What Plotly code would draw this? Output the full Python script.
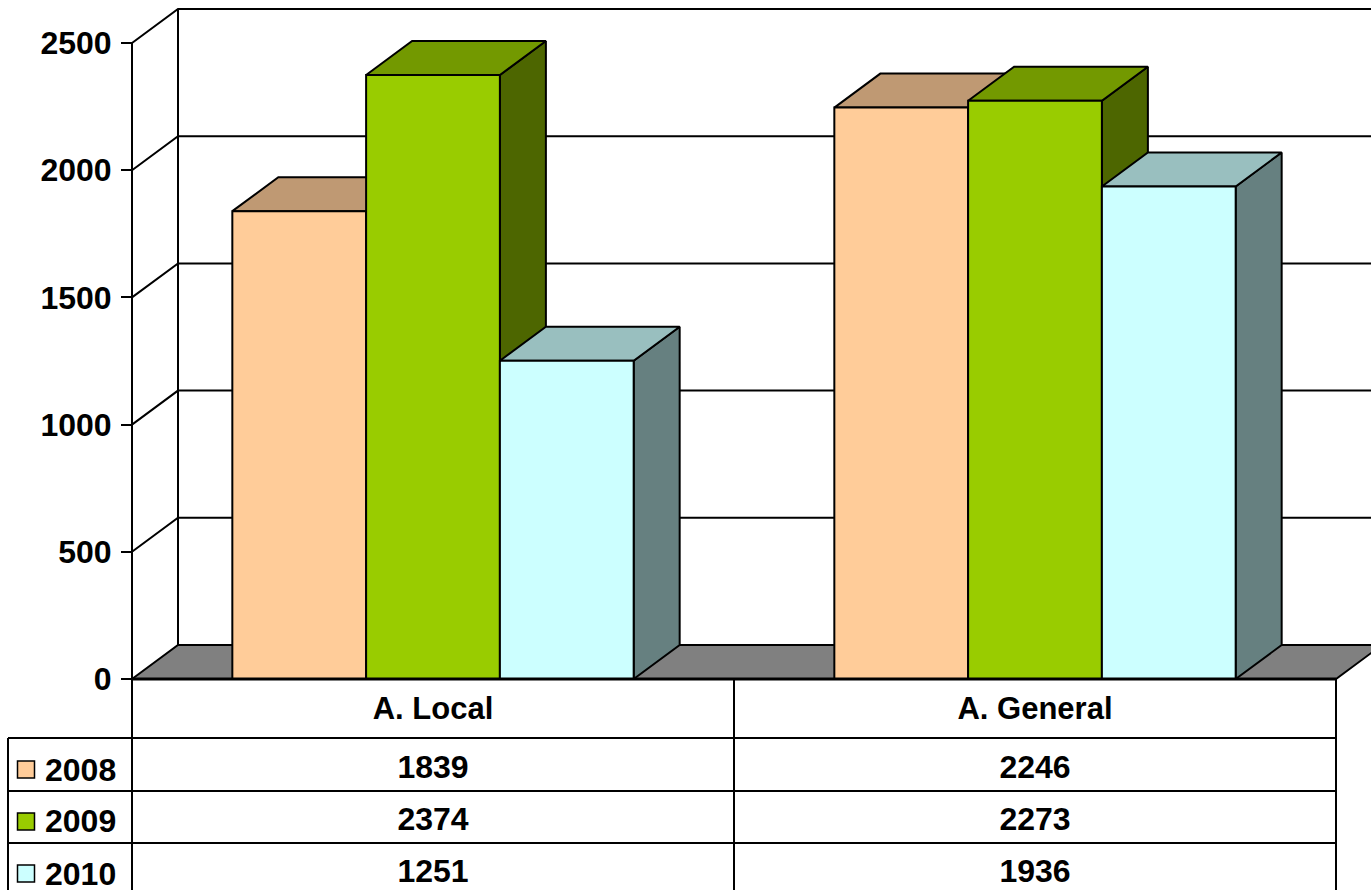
import plotly.graph_objects as go

categories = ["A. Local", "A. General"]
years = ["2008", "2009", "2010"]
values_2008 = [1839, 2246]
values_2009 = [2374, 2273]
values_2010 = [1251, 1936]
y_ticks = [0, 500, 1000, 1500, 2000, 2500]

front = ["#FFCC99", "#99CC00", "#CCFFFF"]
top = ["#BF9973", "#739900", "#99BFBF"]
side = ["#806650", "#4D6600", "#668080"]
FLOOR = "#808080"

W, H = 1371, 890
X0_PX, CAT_PX = 132, 602
Y0_PX, UNIT_PX = 679, 127.2 / 500
FONT = dict(family="Liberation Sans", size=32, color="black", weight="bold")
CAT_FONT = dict(family="Liberation Sans", size=31, color="black", weight="bold")


def xu(px):
    return (px - X0_PX) / CAT_PX


def yu(px):
    return (Y0_PX - px) / UNIT_PX


DX = 46 / CAT_PX
DY = 34 / UNIT_PX
BAR = 1 / 4.5
GAP = BAR * 0.75
X_END = xu(W + 30)
Y_TOP = y_ticks[-1]

fig = go.Figure()


def poly(xs, ys, fill=None, width=2):
    fig.add_trace(go.Scatter(
        x=xs + xs[:1] if fill else xs, y=ys + ys[:1] if fill else ys,
        mode="lines", fill="toself" if fill else None, fillcolor=fill,
        line=dict(color="black", width=width), hoverinfo="skip", showlegend=False))


# walls and gridlines
poly([0, 0], [0, Y_TOP], width=2)
poly([DX, DX], [DY, Y_TOP + DY], width=2)
for t in y_ticks[1:]:
    poly([0, DX, X_END], [t, t + DY, t + DY], width=2)
# floor
poly([0, DX, 2 + DX, 2], [0, DY, DY, 0], fill=FLOOR, width=2)

# bars
series = [values_2008, values_2009, values_2010]
for c in range(len(categories)):
    for s, vals in enumerate(series):
        v = vals[c]
        x1 = c + GAP + s * BAR
        x2 = x1 + BAR
        poly([x2, x2 + DX, x2 + DX, x2], [0, DY, v + DY, v], fill=side[s])
        poly([x1, x1 + DX, x2 + DX, x2], [v, v + DY, v + DY, v], fill=top[s])
        poly([x1, x1, x2, x2], [0, v, v, 0], fill=front[s])

# baseline
poly([0, 2], [0, 0], width=3)

# data table grid
row_lines = [738, 791, 843]
for p in row_lines:
    poly([xu(8), 2], [yu(p), yu(p)], width=2)
poly([xu(8), xu(8)], [yu(738), yu(H)], width=2)
for xv in (0, 1, 2):
    poly([xv, xv], [0, yu(H)], width=2)

# table values
row_px = [770, 822, 874]
for vals, p in zip(series, row_px):
    fig.add_trace(go.Scatter(
        x=[0.5, 1.5], y=[yu(p)] * 2, mode="text", text=[str(v) for v in vals],
        textposition="middle center", showlegend=False, hoverinfo="skip",
        textfont=FONT))

# legend keys in the table
key_px = [769.5, 821.5, 873.5]
label_px = [773, 824, 877]
fig.add_trace(go.Scatter(
    x=[xu(26)] * 3, y=[yu(p) for p in key_px], mode="markers",
    marker=dict(symbol="square", size=17, color=front, line=dict(color="black", width=1.5)),
    showlegend=False, hoverinfo="skip"))
fig.add_trace(go.Scatter(
    x=[xu(45)] * 3, y=[yu(p) for p in label_px], mode="text", text=years,
    textposition="middle right", showlegend=False, hoverinfo="skip",
    textfont=FONT))

fig.update_layout(
    width=W, height=H, margin=dict(l=0, r=0, t=0, b=0),
    paper_bgcolor="white", plot_bgcolor="white", showlegend=False,
    xaxis=dict(
        range=[xu(0), xu(W)], domain=[0, 1], anchor="free",
        position=(H - Y0_PX) / H, tickmode="array", tickvals=[0.5, 1.5],
        ticktext=categories, ticks="", showgrid=False, zeroline=False, showline=False,
        ticklabelstandoff=8, tickfont=CAT_FONT),
    yaxis=dict(
        range=[yu(H), yu(0)], domain=[0, 1], anchor="free",
        position=X0_PX / W, tickmode="array", tickvals=y_ticks,
        ticktext=[str(t) for t in y_ticks], ticks="outside", ticklen=11, tickwidth=2,
        tickcolor="black", showgrid=False, zeroline=False, showline=False,
        ticklabelstandoff=3, tickfont=FONT),
)

fig.write_html("out.html", post_script="document.body.style.margin='0';",
               config={"displayModeBar": False})
